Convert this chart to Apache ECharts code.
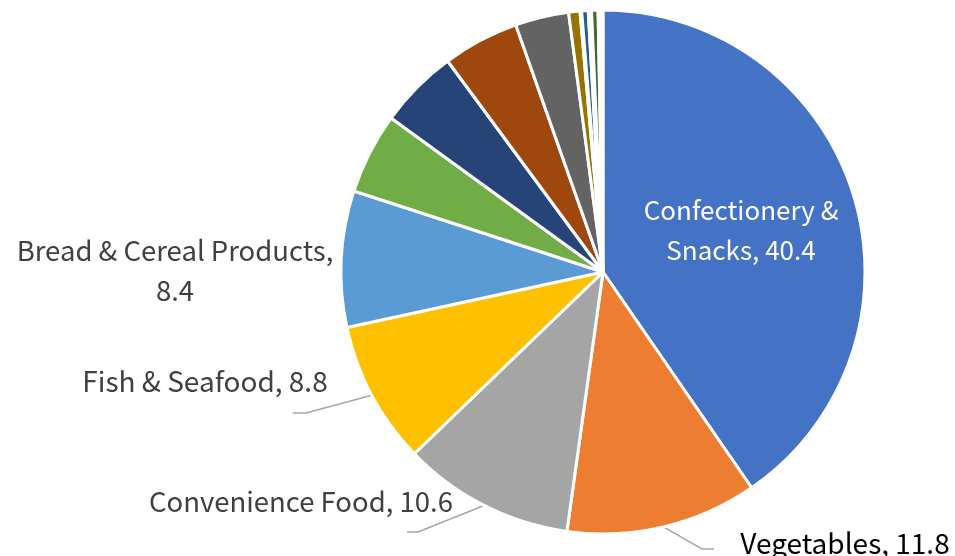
<!DOCTYPE html>
<html><head><meta charset="utf-8">
<script src="https://cdn.jsdelivr.net/npm/echarts@6/dist/echarts.min.js"></script>
<style>html,body{margin:0;padding:0;background:#fff}#c{width:955px;height:556px}</style>
</head><body><div id="c"></div>
<script>
const categories = ['Confectionery & Snacks','Vegetables','Convenience Food','Fish & Seafood','Bread & Cereal Products','Category 6','Category 7','Category 8','Category 9','Category 10','Category 11','Category 12','Category 13','Category 14','Category 15'];
const values = [40.4, 11.8, 10.6, 8.8, 8.4, 5.0, 4.9, 4.7, 3.3, 0.7, 0.1, 0.4, 0.2, 0.4, 0.3];
const colors = ['#4472C4','#ED7D31','#A5A5A5','#FFC000','#5B9BD5','#70AD47','#264478','#9E480E','#636363','#997300','#FFFFFF','#255E91','#FFFFFF','#43682B','#FFFFFF'];
const labelTexts = ['Confectionery &\nSnacks, 40.4','Vegetables, 11.8','Convenience Food, 10.6','Fish & Seafood, 8.8','Bread & Cereal Products,\n8.4'];

// label placement (label centre + leader-line bend/end points)
const labelSpots = [
  {x: 741, y: 230, line: null, size: 26},
  {x: 845, y: 543, line: [[702, 549], [714, 549]], size: 28},
  {x: 301, y: 502, line: [[418, 532], [407, 532]], size: 27.5},
  {x: 205, y: 381, line: [[306, 413], [293, 413]], size: 28},
  {x: 175, y: 271, line: null, size: 27.5}
];
const FONT = '"Noto Sans CJK KR", "Noto Sans", sans-serif';

const data = categories.map((name, i) => {
  const item = {name: name, value: values[i], itemStyle: {color: colors[i]}};
  if (i < labelTexts.length) {
    item.label = {
      show: true,
      position: i === 0 ? 'inside' : 'outside',
      formatter: labelTexts[i],
      color: i === 0 ? '#ffffff' : (i === 1 ? '#000000' : '#404040'),
      fontSize: labelSpots[i].size,
      lineHeight: 40,
      fontFamily: FONT,
      align: 'center'
    };
    item.labelLine = {show: !!labelSpots[i].line, lineStyle: {color: '#a6a6a6', width: 1.5}};
  } else {
    item.label = {show: false};
    item.labelLine = {show: false};
  }
  return item;
});

const chart = echarts.init(document.getElementById('c'), null, {renderer: 'canvas'});
chart.setOption({
  backgroundColor: '#ffffff',
  animation: false,
  series: [{
    type: 'pie',
    center: [603, 272],
    radius: 262,
    startAngle: 90,
    clockwise: true,
    avoidLabelOverlap: false,
    itemStyle: {borderColor: '#ffffff', borderWidth: 3},
    data: data,
    labelLayout: function (params) {
      const i = params.dataIndex;
      const s = labelSpots[i];
      if (!s) return {};
      const out = {x: s.x, y: s.y, align: 'center', verticalAlign: 'middle'};
      if (s.line && params.labelLinePoints) {
        out.labelLinePoints = [params.labelLinePoints[0], s.line[0], s.line[1]];
      }
      return out;
    }
  }]
});
</script>
</body></html>
